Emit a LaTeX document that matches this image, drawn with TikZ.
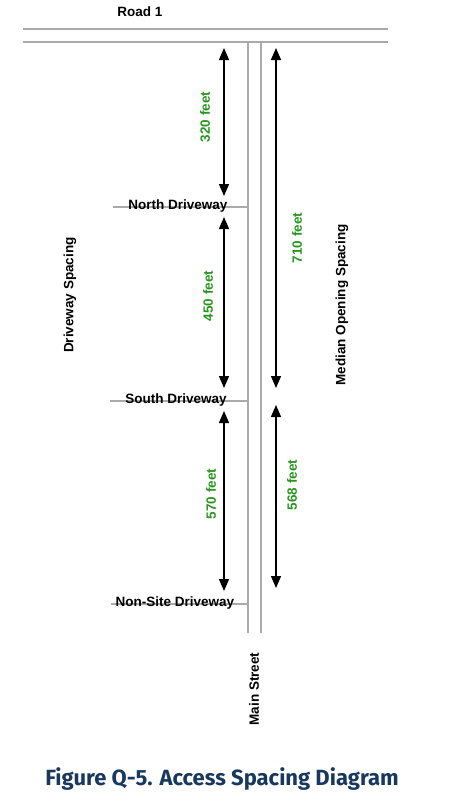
\documentclass[tikz,border=0pt]{standalone}
\usepackage{fontspec}
\setmainfont{Liberation Sans}
\newfontfamily\capfont{Fira Sans}
\usetikzlibrary{arrows.meta}
\definecolor{roadgray}{RGB}{170,170,170}
\definecolor{lblgreen}{RGB}{40,150,30}
\definecolor{capblue}{RGB}{24,56,94}
\tikzset{
  road/.style={draw=roadgray, line width=1.5pt},
  dimboth/.style={draw=black, line width=1.4pt, {Triangle[length=12pt,width=10pt]}-{Triangle[length=12pt,width=10pt]}},
  lbl/.style={font=\fontsize{13.5}{14}\selectfont\bfseries, inner sep=0pt},
  glbl/.style={lbl, text=lblgreen, rotate=90},
  vlbl/.style={lbl, rotate=90},
}
\begin{document}
\begin{tikzpicture}[x=1pt,y=-1pt]
\useasboundingbox (0,0) rectangle (454,809);
% Road 1
\coordinate (r1a) at (23,29);  \coordinate (r1b) at (388,29);
\coordinate (r2a) at (23,42);  \coordinate (r2b) at (388,42);
\draw[road] (r1a) -- (r1b);
\draw[road] (r2a) -- (r2b);
\node[lbl] (road1) at (140,12) {Road 1};
% Main street
\coordinate (m1t) at (248,42); \coordinate (m1b) at (248,633);
\coordinate (m2t) at (261,42); \coordinate (m2b) at (261,633);
\draw[road] (m1t) -- (m1b);
\draw[road] (m2t) -- (m2b);
\node[vlbl] (main) at (254,689) {Main Street};
% Driveways
\coordinate (nd1) at (113,207); \coordinate (nd2) at (248,207);
\coordinate (sd1) at (110,401); \coordinate (sd2) at (248,401);
\coordinate (xd1) at (111,604); \coordinate (xd2) at (248,604);
\draw[road] (nd1) -- (nd2);
\draw[road] (sd1) -- (sd2);
\draw[road] (xd1) -- (xd2);
\node[lbl] (north) at (178,206) {North Driveway};
\node[lbl] (south) at (176,400) {South Driveway};
\node[lbl] (nonsite) at (175,603) {Non-Site Driveway};
% Left dimension arrows
\coordinate (a1t) at (224,48);  \coordinate (a1b) at (224,196);
\coordinate (a2t) at (224,217); \coordinate (a2b) at (224,388);
\coordinate (a3t) at (224,411); \coordinate (a3b) at (224,591);
\draw[dimboth] (a1t) -- (a1b);
\draw[dimboth] (a2t) -- (a2b);
\draw[dimboth] (a3t) -- (a3b);
\node[glbl] (l320) at (205,117) {320 feet};
\node[glbl] (l450) at (208,296) {450 feet};
\node[glbl] (l570) at (211,494) {570 feet};
% Right dimension arrows
\coordinate (b1t) at (276,48);  \coordinate (b1b) at (276,388);
\coordinate (b2t) at (276,405); \coordinate (b2b) at (276,588);
\draw[dimboth] (b1t) -- (b1b);
\draw[dimboth] (b2t) -- (b2b);
\node[glbl] (l710) at (297,238) {710 feet};
\node[glbl] (l568) at (292,485) {568 feet};
% Side labels
\node[vlbl] (dsp) at (70,295) {Driveway Spacing};
\node[vlbl] (mos) at (342,305) {Median Opening Spacing};
% Caption
\node[inner sep=0pt, text=capblue, font=\capfont\bfseries\fontsize{22}{24}\selectfont] (cap) at (222,779) {Figure Q-5. Access Spacing Diagram};
\end{tikzpicture}
\end{document}
